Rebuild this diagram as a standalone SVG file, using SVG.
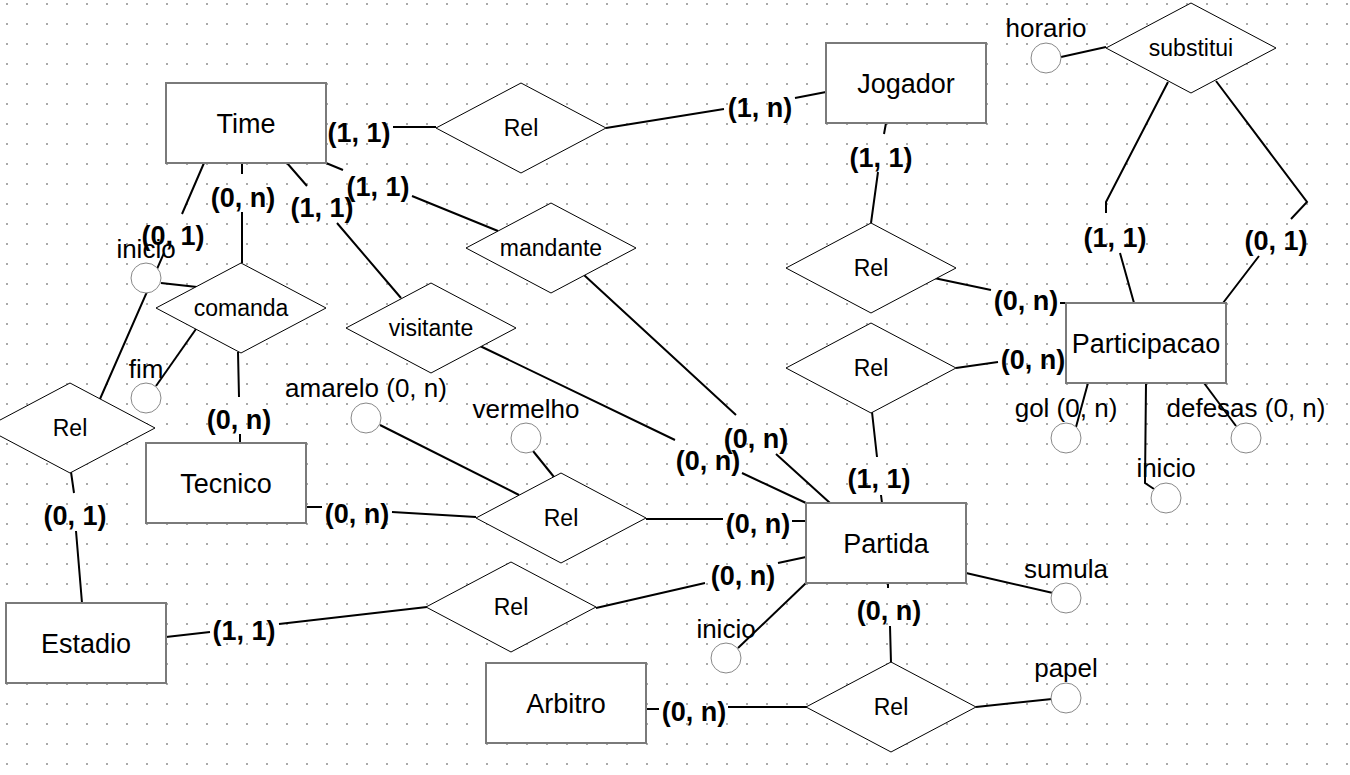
<svg xmlns="http://www.w3.org/2000/svg" width="1350" height="775" viewBox="0 0 1350 775">
<defs>
<pattern id="grid" x="0" y="0" width="20" height="20" patternUnits="userSpaceOnUse">
<rect x="6" y="3" width="2" height="2" fill="#aaaaaa"/>
</pattern>
<style>
.ent rect{fill:#fff;stroke:#7a7a7a;stroke-width:2}
.ent text{font-family:"Liberation Sans",Arial,sans-serif;font-size:27px;text-anchor:middle;fill:#000}
.rel polygon{fill:#fff;stroke:#000;stroke-width:1}
.rel text{font-family:"Liberation Sans",Arial,sans-serif;font-size:23px;text-anchor:middle;fill:#000}
.att circle{fill:#fff;stroke:#888;stroke-width:1}
.att text{font-family:"Liberation Sans",Arial,sans-serif;font-size:26px;text-anchor:middle;fill:#000}
.conn path{fill:none;stroke:#000;stroke-width:2}
.card text{font-family:"Liberation Sans",Arial,sans-serif;font-size:27px;font-weight:bold;text-anchor:middle;fill:#000}
</style>
</defs>
<rect width="1350" height="775" fill="#fff"/>
<rect width="1350" height="775" fill="url(#grid)"/>

<g id="connectors" class="conn">
<path d="M393,127 L436,127"/>
<path d="M606,128 L724,109 M795,98 L826,92"/>
<path d="M886,123 L884,134 M878,172 L871,223"/>
<path d="M934,278 L991,290 M1060,303 L1066,303"/>
<path d="M956,368 L998,362"/>
<path d="M872,412 L877,457 M881,495 L882,503"/>
<path d="M1168,82 L1106,202 L1106,213 M1120,253 L1134,303"/>
<path d="M1216,81 L1307,202 L1291,219 M1259,256 L1223,303"/>
<path d="M242,163 L242,174 M242,212 L242,263"/>
<path d="M238,352 L239,397 M240,434 L240,443"/>
<path d="M204,163 L182,214 M164,253 L100,399"/>
<path d="M71,472 L74,493 M76,531 L82,603"/>
<path d="M287,163 L307,186 M337,223 L401,298"/>
<path d="M326,163 L343,170 M412,196 L498,231"/>
<path d="M584,275 L736,415 M776,454 L830,503"/>
<path d="M480,346 L675,440 M742,473 L806,503"/>
<path d="M306,507 L322,507 M392,512 L476,517"/>
<path d="M646,519 L723,519 M792,521 L806,521"/>
<path d="M380,425 L519,495"/>
<path d="M533,451 L554,477"/>
<path d="M166,637 L210,632 M279,624 L427,607"/>
<path d="M596,608 L705,583 M778,563 L806,557"/>
<path d="M806,583 L738,648"/>
<path d="M966,573 L1053,593"/>
<path d="M888,583 L888,588 M890,626 L891,663"/>
<path d="M646,709 L659,709 M728,707 L807,707"/>
<path d="M976,707 L1052,699"/>
<path d="M161,283 L197,287"/>
<path d="M156,386 L196,329"/>
<path d="M1061,57 L1106,47"/>
<path d="M1088,383 L1076,427"/>
<path d="M1146,383 L1145,483 L1154,489"/>
<path d="M1204,383 L1236,426"/>
</g>

<g id="Time" class="ent"><rect x="166" y="83" width="160" height="80"/><text x="246" y="133">Time</text></g>
<g id="Jogador" class="ent"><rect x="826" y="43" width="160" height="80"/><text x="906" y="93">Jogador</text></g>
<g id="Participacao" class="ent"><rect x="1066" y="303" width="160" height="80"/><text x="1146" y="353">Participacao</text></g>
<g id="Partida" class="ent"><rect x="806" y="503" width="160" height="80"/><text x="886" y="553">Partida</text></g>
<g id="Tecnico" class="ent"><rect x="146" y="443" width="160" height="80"/><text x="226" y="493">Tecnico</text></g>
<g id="Estadio" class="ent"><rect x="6" y="603" width="160" height="80"/><text x="86" y="653">Estadio</text></g>
<g id="Arbitro" class="ent"><rect x="486" y="663" width="160" height="80"/><text x="566" y="713">Arbitro</text></g>

<g id="rel_time_jogador" class="rel"><polygon points="436,128 521,83 606,128 521,173"/><text x="521" y="136">Rel</text></g>
<g id="mandante" class="rel"><polygon points="466,248 551,203 636,248 551,293"/><text x="551" y="256">mandante</text></g>
<g id="visitante" class="rel"><polygon points="346,328 431,283 516,328 431,373"/><text x="431" y="336">visitante</text></g>
<g id="rel_jogador_participacao" class="rel"><polygon points="786,268 871,223 956,268 871,313"/><text x="871" y="276">Rel</text></g>
<g id="rel_partida_participacao" class="rel"><polygon points="786,368 871,323 956,368 871,413"/><text x="871" y="376">Rel</text></g>
<g id="comanda" class="rel"><polygon points="156,308 241,263 326,308 241,353"/><text x="241" y="316">comanda</text></g>
<g id="rel_time_estadio" class="rel"><polygon points="-15,428 70,383 155,428 70,473"/><text x="70" y="436">Rel</text></g>
<g id="substitui" class="rel"><polygon points="1106,48 1191,3 1276,48 1191,93"/><text x="1191" y="56">substitui</text></g>
<g id="rel_tecnico_partida" class="rel"><polygon points="476,518 561,473 646,518 561,563"/><text x="561" y="526">Rel</text></g>
<g id="rel_estadio_partida" class="rel"><polygon points="426,607 511,562 596,607 511,652"/><text x="511" y="615">Rel</text></g>
<g id="rel_arbitro_partida" class="rel"><polygon points="806,707 891,662 976,707 891,752"/><text x="891" y="715">Rel</text></g>

<g id="att_horario" class="att"><circle cx="1046" cy="58" r="15"/><text x="1046" y="37">horario</text></g>
<g id="att_inicio_comanda" class="att"><circle cx="146" cy="278" r="15"/><text x="146" y="258">inicio</text></g>
<g id="att_fim" class="att"><circle cx="146" cy="398" r="15"/><text x="146" y="378">fim</text></g>
<g id="att_amarelo" class="att"><circle cx="366" cy="418" r="15"/><text x="366" y="397">amarelo (0, n)</text></g>
<g id="att_vermelho" class="att"><circle cx="526" cy="438" r="15"/><text x="526" y="418">vermelho</text></g>
<g id="att_gol" class="att"><circle cx="1066" cy="438" r="15"/><text x="1066" y="417">gol (0, n)</text></g>
<g id="att_defesas" class="att"><circle cx="1246" cy="438" r="15"/><text x="1246" y="417">defesas (0, n)</text></g>
<g id="att_inicio_participacao" class="att"><circle cx="1166" cy="498" r="15"/><text x="1166" y="477">inicio</text></g>
<g id="att_sumula" class="att"><circle cx="1066" cy="598" r="15"/><text x="1066" y="578">sumula</text></g>
<g id="att_inicio_partida" class="att"><circle cx="726" cy="658" r="15"/><text x="726" y="638">inicio</text></g>
<g id="att_papel" class="att"><circle cx="1066" cy="698" r="15"/><text x="1066" y="677">papel</text></g>

<g id="cardinalities" class="card">
<text x="359" y="142">(1, 1)</text>
<text x="760" y="117">(1, n)</text>
<text x="881" y="167">(1, 1)</text>
<text x="1026" y="310">(0, n)</text>
<text x="1033" y="369">(0, n)</text>
<text x="879" y="488">(1, 1)</text>
<text x="1115" y="247">(1, 1)</text>
<text x="1276" y="250">(0, 1)</text>
<text x="243" y="207">(0, n)</text>
<text x="239" y="429">(0, n)</text>
<text x="173" y="245">(0, 1)</text>
<text x="75" y="525">(0, 1)</text>
<text x="322" y="217">(1, 1)</text>
<text x="378" y="196">(1, 1)</text>
<text x="756" y="448">(0, n)</text>
<text x="708" y="470">(0, n)</text>
<text x="357" y="523">(0, n)</text>
<text x="758" y="533">(0, n)</text>
<text x="244" y="640">(1, 1)</text>
<text x="743" y="585">(0, n)</text>
<text x="889" y="620">(0, n)</text>
<text x="694" y="721">(0, n)</text>
</g>
</svg>
